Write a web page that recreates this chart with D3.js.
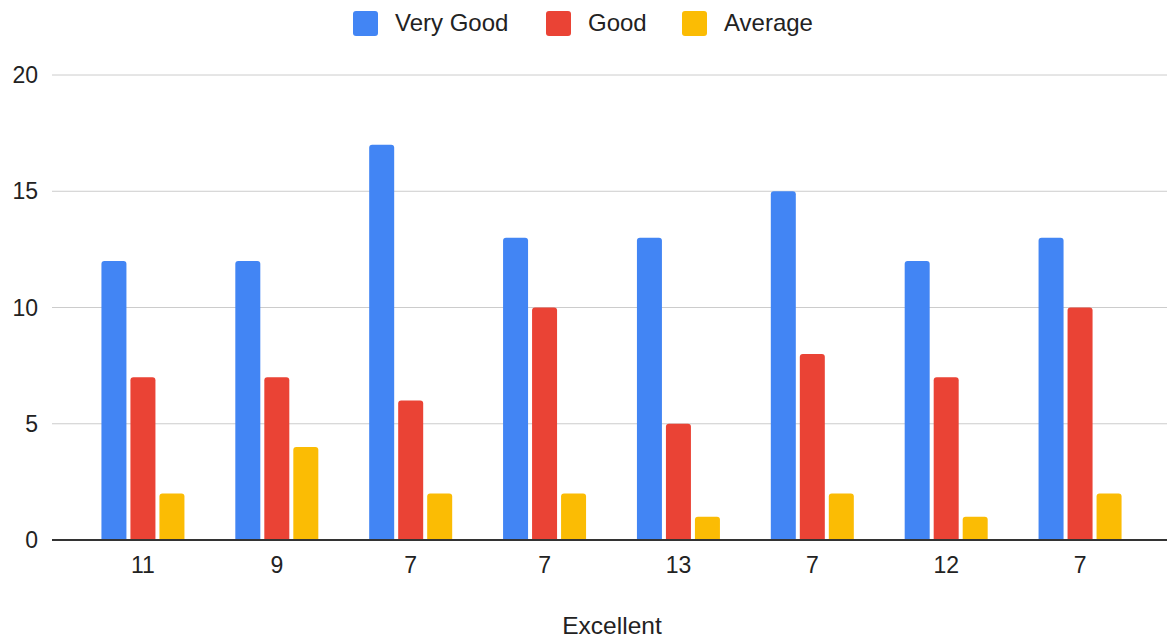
<!DOCTYPE html>
<html><head><meta charset="utf-8">
<script src="https://cdn.jsdelivr.net/npm/d3@7"></script>
<style>body{margin:0;background:#fff;}text{font-family:Arial,"Liberation Sans",sans-serif;}</style>
</head><body>
<svg id="c" width="1167" height="641"></svg>
<script>
const categories = ["11","9","7","7","13","7","12","7"];
const seriesNames = ["Very Good","Good","Average"];
const veryGood = [12,12,17,13,13,15,12,13];
const good = [7,7,6,10,5,8,7,10];
const average = [2,4,2,2,1,2,1,2];
const yTicks = [0,5,10,15,20];
const colors = ["#4285F4","#EA4335","#FBBC04"];
const xTitle = "Excellent";

const series = [veryGood, good, average];
const svg = d3.select("#c");
const y = d3.scaleLinear().domain([0,20]).range([540,75]);
const idx = categories.map((d,i)=>i);
const x = d3.scaleBand().domain(idx).range([76,1147]).paddingInner(0.38).paddingOuter(0.19);
const xs = d3.scaleBand().domain(d3.range(3)).range([0,x.bandwidth()]).paddingInner(4/29);

// gridlines
svg.append("g").selectAll("line").data(yTicks.filter(t=>t>0)).join("line")
  .attr("x1",52).attr("x2",1167).attr("y1",d=>y(d)).attr("y2",d=>y(d))
  .attr("stroke","#cccccc").attr("stroke-width",1);
// y labels
svg.append("g").selectAll("text").data(yTicks).join("text")
  .attr("x",38).attr("y",d=>y(d)+8).attr("text-anchor","end")
  .attr("font-size",23).attr("fill","#222").text(d=>d);

// bars
const r = 3;
function barPath(x0,w,yTop,yBot){
  const rr = Math.min(r, (yBot-yTop));
  return `M${x0},${yBot}V${yTop+rr}Q${x0},${yTop} ${x0+rr},${yTop}H${x0+w-rr}Q${x0+w},${yTop} ${x0+w},${yTop+rr}V${yBot}Z`;
}
series.forEach((vals,s)=>{
  svg.append("g").selectAll("path").data(vals).join("path")
    .attr("d",(d,i)=>barPath(x(i)+xs(s), xs.bandwidth(), y(d), y(0)))
    .attr("fill",colors[s]);
});

// baseline
svg.append("line").attr("x1",52).attr("x2",1167).attr("y1",y(0)).attr("y2",y(0))
  .attr("stroke","#333").attr("stroke-width",2);

// x labels
svg.append("g").selectAll("text").data(idx).join("text")
  .attr("x",i=>x(i)+x.bandwidth()/2).attr("y",573).attr("text-anchor","middle")
  .attr("font-size",23).attr("fill","#222").text(i=>categories[i]);

svg.append("text").attr("x",612).attr("y",634).attr("text-anchor","middle")
  .attr("font-size",24.5).attr("fill","#222").text(xTitle);

// legend
const legX = [353,546,682];
seriesNames.forEach((n,i)=>{
  svg.append("rect").attr("x",legX[i]).attr("y",11).attr("width",25).attr("height",25)
    .attr("rx",3).attr("fill",colors[i]);
  svg.append("text").attr("x",legX[i]+42).attr("y",31)
    .attr("font-size",24).attr("fill","#222").text(n);
});
</script>
</body></html>
